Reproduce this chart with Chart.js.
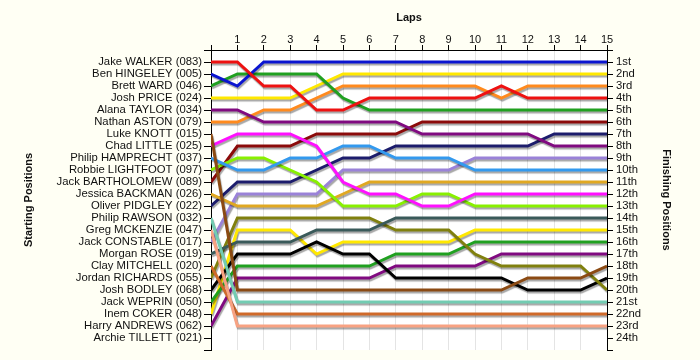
<!DOCTYPE html>
<html>
<head>
<meta charset="utf-8">
<script src="https://cdn.jsdelivr.net/npm/chart.js@4/dist/chart.umd.min.js"></script>
<style>
  html, body { margin: 0; padding: 0; background: #FFFFF4; }
  #wrap { width: 700px; height: 360px; }
</style>
</head>
<body>
<div id="wrap"><canvas id="c" width="700" height="360"></canvas></div>
<script>
// ---- Data ----
const laps = [0, 1, 2, 3, 4, 5, 6, 7, 8, 9, 10, 11, 12, 13, 14, 15];

const drivers = [
  "Jake WALKER (083)", "Ben HINGELEY (005)", "Brett WARD (046)", "Josh PRICE (024)",
  "Alana TAYLOR (034)", "Nathan ASTON (079)", "Luke KNOTT (015)", "Chad LITTLE (025)",
  "Philip HAMPRECHT (037)", "Robbie LIGHTFOOT (097)", "Jack BARTHOLOMEW (089)", "Jessica BACKMAN (026)",
  "Oliver PIDGLEY (022)", "Philip RAWSON (032)", "Greg MCKENZIE (047)", "Jack CONSTABLE (017)",
  "Morgan ROSE (019)", "Clay MITCHELL (020)", "Jordan RICHARDS (055)", "Josh BODLEY (068)",
  "Jack WEPRIN (050)", "Inem COKER (048)", "Harry ANDREWS (062)", "Archie TILLETT (021)"
];

const finishLabels = [
  "1st", "2nd", "3rd", "4th", "5th", "6th", "7th", "8th", "9th", "10th", "11th", "12th",
  "13th", "14th", "15th", "16th", "17th", "18th", "19th", "20th", "21st", "22nd", "23rd", "24th"
];

// position of each driver at laps 0..15
const walker      = [1, 1, 3, 3, 5, 5, 4, 4, 4, 4, 4, 3, 4, 4, 4, 4];
const hingeley    = [2, 3, 1, 1, 1, 1, 1, 1, 1, 1, 1, 1, 1, 1, 1, 1];
const ward        = [3, 2, 2, 2, 2, 4, 5, 5, 5, 5, 5, 5, 5, 5, 5, 5];
const price       = [4, 4, 4, 4, 3, 2, 2, 2, 2, 2, 2, 2, 2, 2, 2, 2];
const taylor      = [5, 5, 6, 6, 6, 6, 6, 6, 7, 7, 7, 7, 7, 8, 8, 8];
const aston       = [6, 6, 5, 5, 4, 3, 3, 3, 3, 3, 3, 4, 3, 3, 3, 3];
const knott       = [7, 20, 20, 20, 20, 20, 20, 20, 20, 20, 20, 20, 19, 19, 19, 18];
const little      = [8, 7, 7, 7, 8, 11, 12, 12, 13, 13, 12, 12, 12, 12, 12, 12];
const hamprecht   = [9, 10, 10, 9, 9, 8, 8, 9, 9, 9, 10, 10, 10, 10, 10, 10];
const lightfoot   = [10, 9, 9, 10, 11, 13, 13, 13, 12, 12, 13, 13, 13, 13, 13, 13];
const bartholomew = [11, 8, 8, 8, 7, 7, 7, 7, 6, 6, 6, 6, 6, 6, 6, 6];
const backman     = [12, 13, 13, 13, 13, 12, 11, 11, 11, 11, 11, 11, 11, 11, 11, 11];
const pidgley     = [13, 11, 11, 11, 10, 9, 9, 8, 8, 8, 8, 8, 8, 7, 7, 7];
const rawson      = [14, 21, 21, 21, 21, 21, 21, 21, 21, 21, 21, 21, 21, 21, 21, 21];
const mckenzie    = [15, 23, 23, 23, 23, 23, 23, 23, 23, 23, 23, 23, 23, 23, 23, 23];
const constable   = [16, 12, 12, 12, 12, 10, 10, 10, 10, 10, 9, 9, 9, 9, 9, 9];
const rose        = [17, 16, 16, 16, 15, 15, 15, 14, 14, 14, 14, 14, 14, 14, 14, 14];
const mitchell    = [18, 22, 22, 22, 22, 22, 22, 22, 22, 22, 22, 22, 22, 22, 22, 22];
const richards    = [19, 14, 14, 14, 14, 14, 14, 15, 15, 15, 17, 18, 18, 18, 18, 20];
const bodley      = [20, 17, 17, 17, 16, 17, 17, 19, 19, 19, 19, 19, 20, 20, 20, 19];
const weprin      = [21, 18, 18, 18, 18, 18, 18, 17, 17, 17, 16, 16, 16, 16, 16, 16];
const coker       = [22, 15, 15, 15, 17, 16, 16, 16, 16, 16, 15, 15, 15, 15, 15, 15];
const andrews     = [23, 19, 19, 19, 19, 19, 19, 18, 18, 18, 18, 17, 17, 17, 17, 17];

const seriesList = [walker, hingeley, ward, price, taylor, aston, knott, little, hamprecht,
  lightfoot, bartholomew, backman, pidgley, rawson, mckenzie, constable, rose, mitchell,
  richards, bodley, weprin, coker, andrews];

// ---- Styles ----
const lineColors = [
  "#EE1111", "#0A14D0", "#20A020", "#FFE800", "#800A80", "#FF8A1E", "#8B4A13", "#FF10FF",
  "#3399EE", "#88F000", "#8B0A0A", "#E0A822", "#1C1C6C", "#72CCB2", "#F8A282", "#9A82D8",
  "#3A5A5A", "#D06A2A", "#80800E", "#000000", "#20A020", "#FFE800", "#800A80"
];

const datasets = seriesList.map((arr, i) => ({
  label: drivers[i],
  data: arr.map((p, k) => ({ x: laps[k], y: p })),
  borderColor: lineColors[i],
  backgroundColor: lineColors[i],
  borderWidth: 3,
  pointRadius: 0,
  tension: 0,
  fill: false
}));

const bgPlugin = {
  id: 'bg',
  beforeDraw(chart) {
    const ctx = chart.ctx, a = chart.chartArea;
    ctx.save();
    ctx.fillStyle = '#FFFFF4';
    ctx.fillRect(0, 0, chart.width, chart.height);
    ctx.fillStyle = '#FFFFFF';
    ctx.fillRect(a.left, a.top, a.right - a.left, a.bottom - a.top);
    ctx.restore();
  }
};

const shadowPlugin = {
  id: 'shadow',
  beforeDatasetDraw(chart) {
    const ctx = chart.ctx;
    ctx.save();
    ctx.shadowColor = 'rgba(0,0,0,0.35)';
    ctx.shadowOffsetX = 1;
    ctx.shadowOffsetY = 2;
    ctx.shadowBlur = 1;
  },
  afterDatasetDraw(chart) {
    chart.ctx.restore();
  }
};

Chart.defaults.font.family = "'Liberation Sans', Arial, sans-serif";
Chart.defaults.color = '#111';

new Chart(document.getElementById('c'), {
  type: 'line',
  data: { datasets },
  plugins: [bgPlugin, shadowPlugin],
  options: {
    responsive: false,
    animation: false,
    devicePixelRatio: 1,
    layout: { padding: { left: 0, right: 0, top: 0, bottom: 10 } },
    plugins: { legend: { display: false }, tooltip: { enabled: false } },
    scales: {
      x: {
        type: 'linear',
        position: 'top',
        min: 0, max: 15,
        afterFit(s) { s.height = 50; },
        ticks: {
          stepSize: 1, autoSkip: false, maxRotation: 0,
          padding: -2,
          font: { size: 11 },
          callback: v => (v === 0 ? '' : String(v))
        },
        grid: { color: '#E4E4E4', tickColor: '#000', tickLength: 5, drawOnChartArea: true },
        border: { color: '#000', width: 1 },
        title: { display: true, text: 'Laps', font: { size: 11, weight: 'bold' }, padding: { top: 11, bottom: 0 } }
      },
      y: {
        type: 'linear',
        position: 'left',
        reverse: true,
        min: 0, max: 25,
        afterFit(s) { s.width = 211; },
        ticks: {
          stepSize: 1, autoSkip: false, padding: 2,
          font: { size: 11.3 },
          callback: v => drivers[v - 1] || ''
        },
        grid: { drawOnChartArea: false, tickColor: '#000', tickLength: 7 },
        border: { color: '#000', width: 1 },
        title: { display: true, text: 'Starting Positions', font: { size: 11, weight: 'bold' }, padding: { top: 22, bottom: 0 } }
      },
      y2: {
        type: 'linear',
        position: 'right',
        reverse: true,
        min: 0, max: 25,
        afterFit(s) { s.width = 93; },
        ticks: {
          stepSize: 1, autoSkip: false, padding: 3,
          font: { size: 11.3 },
          callback: v => finishLabels[v - 1] || ''
        },
        grid: { drawOnChartArea: false, tickColor: '#000', tickLength: 6 },
        border: { color: '#000', width: 1 },
        title: { display: true, text: 'Finishing Positions', font: { size: 11, weight: 'bold' }, padding: { top: 27, bottom: 0 } }
      }
    }
  }
});
</script>
</body>
</html>
